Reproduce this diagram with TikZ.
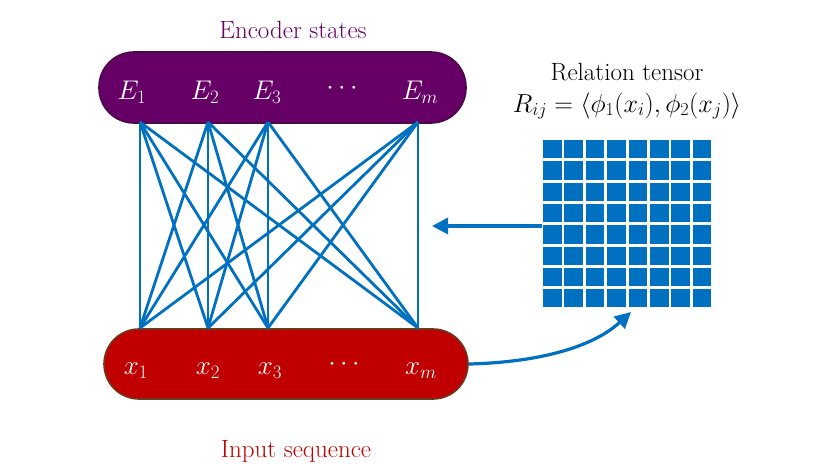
\RequirePackage{fix-cm}
\documentclass[tikz,border=0pt]{standalone}
\usetikzlibrary{arrows.meta}
\definecolor{encfill}{HTML}{660066}
\definecolor{encdraw}{HTML}{4A0A4A}
\definecolor{inpfill}{HTML}{C00000}
\definecolor{inpdraw}{HTML}{6B3A1A}
\definecolor{lblue}{HTML}{0070C0}
\begin{document}
\begin{tikzpicture}[x=1pt,y=-1pt,
  capsule/.style={rounded corners=35pt,line width=1.6pt},
  tok/.style={text=white,font=\fontsize{27}{31}\selectfont,inner sep=0pt},
  link/.style={lblue,line width=2.8pt},
  lbl/.style={font=\fontsize{25}{29}\selectfont,inner sep=0pt}]
\useasboundingbox (0,0) rectangle (830,475);
\fill[white] (0,0) rectangle (830,475);
% capsules
\path[capsule,fill=encfill,draw=encdraw] (99,52) rectangle (466,123);
\path[capsule,fill=inpfill,draw=inpdraw] (104,329) rectangle (468,399);
% connection points
\foreach \n/\x in {1/140,2/208,3/268,4/418}{
  \coordinate (t\n) at (\x,122);
  \coordinate (b\n) at (\x,328);
}
\foreach \i in {1,2,3,4}{\foreach \j in {1,2,3,4}{
  \draw[link] (t\i) -- (b\j);}}
% tokens
\node[tok] (E1) at (132,92) {$E_1$};
\node[tok] (E2) at (205,92) {$E_2$};
\node[tok] (E3) at (267,92) {$E_3$};
\node[tok] (Ed) at (342,88) {$\cdots$};
\node[tok] (Em) at (420,92) {$E_m$};
\node[tok] (x1) at (136,371) {$x_1$};
\node[tok] (x2) at (208,371) {$x_2$};
\node[tok] (x3) at (270,371) {$x_3$};
\node[tok] (xd) at (344,364) {$\cdots$};
\node[tok] (xm) at (421,371) {$x_m$};
% labels
\node[lbl,text=encfill] (enc) at (293,30) {Encoder states};
\node[lbl,text=inpfill] (inp) at (296,451) {Input sequence};
\node[lbl] (rel) at (627,72) {Relation tensor};
\node[lbl,font=\fontsize{26}{30}\selectfont] (form) at (627,106) {$R_{ij}=\langle\phi_1(x_i),\phi_2(x_j)\rangle$};
% grid
\foreach \i in {0,...,7}{\foreach \j in {0,...,7}{
  \fill[lblue] ({543+\i*21.4},{140+\j*21.3}) rectangle ++(18.5,18.3);}}
\coordinate (gl) at (542,226);
\coordinate (ga) at (432,226);
\coordinate (gb) at (631,312);
\coordinate (xr) at (469,364);
\draw[lblue,line width=3.2pt,-{Triangle[length=16pt,width=16pt]}] (gl) -- (ga);
\draw[lblue,line width=3.2pt,-{Triangle[length=16pt,width=16pt]}] (xr) .. controls (545,362) and (595,345) .. (gb);
\end{tikzpicture}
\end{document}
